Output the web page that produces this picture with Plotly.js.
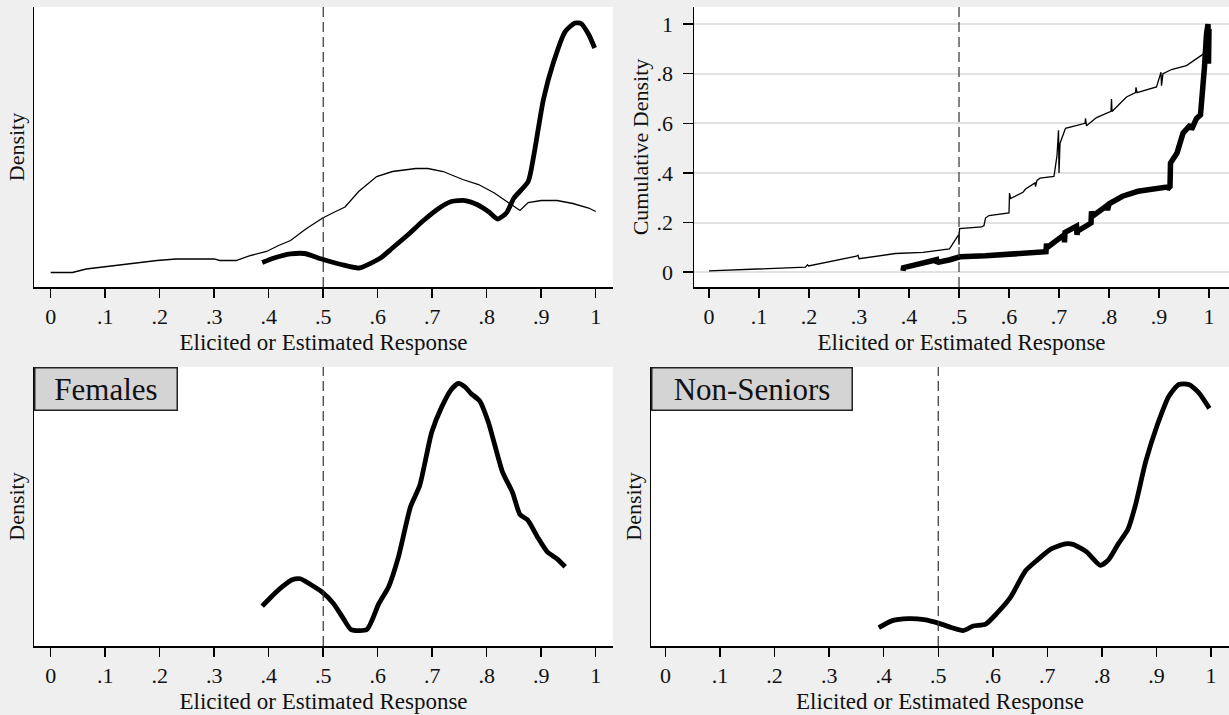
<!DOCTYPE html>
<html>
<head>
<meta charset="utf-8">
<script src="https://cdn.plot.ly/plotly-3.0.1.min.js"></script>
<style>html,body{margin:0;padding:0;background:#efefef;}#chart{width:1229px;height:715px;}</style>
</head>
<body>
<div id="chart"></div>
<script>
// ---- Tick labels ----
const xTickVals = [0, 0.1, 0.2, 0.3, 0.4, 0.5, 0.6, 0.7, 0.8, 0.9, 1];
const xTickText = ['0', '.1', '.2', '.3', '.4', '.5', '.6', '.7', '.8', '.9', '1'];
const yCdfTickVals = [0, 0.2, 0.4, 0.6, 0.8, 1];
const yCdfTickText = ['0', '.2', '.4', '.6', '.8', '1'];
const cutoff = 0.5;

// ---- Panel 1: densities (thin = estimated, thick = elicited) ----
const densThinX = [0, 0.04, 0.065, 0.094, 0.144, 0.195, 0.23, 0.30, 0.31, 0.34, 0.367, 0.396, 0.418, 0.44, 0.468, 0.499, 0.519, 0.54, 0.565, 0.598, 0.627, 0.67, 0.692, 0.72, 0.756, 0.785, 0.814, 0.836, 0.861, 0.876, 0.90, 0.929, 0.958, 0.987, 1.0];
const densThinY = [0.29, 0.29, 0.36, 0.40, 0.46, 0.53, 0.56, 0.56, 0.53, 0.53, 0.63, 0.71, 0.83, 0.93, 1.16, 1.38, 1.49, 1.60, 1.91, 2.21, 2.31, 2.37, 2.37, 2.31, 2.15, 2.05, 1.88, 1.71, 1.53, 1.69, 1.73, 1.73, 1.67, 1.58, 1.51];
const densThickX = [0.388, 0.41, 0.44, 0.465, 0.497, 0.533, 0.566, 0.605, 0.627, 0.656, 0.684, 0.713, 0.735, 0.76, 0.782, 0.803, 0.82, 0.836, 0.85, 0.876, 0.886, 0.904, 0.922, 0.944, 0.962, 0.973, 0.987, 0.998];
const densThickY = [0.49, 0.58, 0.66, 0.67, 0.56, 0.45, 0.38, 0.58, 0.78, 1.05, 1.33, 1.58, 1.71, 1.73, 1.65, 1.51, 1.36, 1.48, 1.78, 2.11, 2.61, 3.75, 4.48, 5.11, 5.28, 5.27, 5.05, 4.78];

// ---- Panel 2: cumulative densities ----
const cdfThinX = [0, 0.193, 0.197, 0.199, 0.295, 0.298, 0.300, 0.373, 0.428, 0.481, 0.499, 0.500, 0.501, 0.545, 0.550, 0.553, 0.560, 0.600, 0.601, 0.603, 0.628, 0.633, 0.652, 0.653, 0.656, 0.662, 0.690, 0.696, 0.699, 0.700, 0.702, 0.713, 0.752, 0.753, 0.755, 0.775, 0.804, 0.805, 0.806, 0.835, 0.853, 0.854, 0.856, 0.895, 0.904, 0.905, 0.908, 0.925, 0.955, 0.992];
const cdfThinY = [0.005, 0.020, 0.030, 0.025, 0.064, 0.068, 0.054, 0.075, 0.080, 0.094, 0.150, 0.110, 0.175, 0.182, 0.188, 0.218, 0.228, 0.239, 0.319, 0.297, 0.322, 0.335, 0.360, 0.345, 0.370, 0.379, 0.386, 0.470, 0.572, 0.400, 0.520, 0.580, 0.600, 0.620, 0.590, 0.623, 0.648, 0.698, 0.648, 0.706, 0.724, 0.745, 0.724, 0.747, 0.806, 0.752, 0.800, 0.817, 0.833, 0.884];
const cdfThickX = [0.388, 0.389, 0.455, 0.456, 0.458, 0.482, 0.502, 0.553, 0.640, 0.674, 0.675, 0.677, 0.710, 0.711, 0.712, 0.735, 0.736, 0.737, 0.764, 0.765, 0.767, 0.796, 0.797, 0.800, 0.827, 0.858, 0.916, 0.917, 0.922, 0.923, 0.936, 0.948, 0.963, 0.965, 0.975, 0.983, 0.987, 0.991, 0.995, 0.998, 0.999, 1.0];
const cdfThickY = [0.005, 0.018, 0.050, 0.035, 0.040, 0.050, 0.062, 0.066, 0.074, 0.082, 0.115, 0.100, 0.150, 0.120, 0.160, 0.185, 0.150, 0.165, 0.198, 0.245, 0.225, 0.268, 0.250, 0.275, 0.306, 0.326, 0.343, 0.335, 0.345, 0.440, 0.480, 0.560, 0.594, 0.575, 0.620, 0.634, 0.721, 0.828, 0.960, 1.000, 0.840, 0.980];

// ---- Panel 3: Females ----
const femX = [0.388, 0.403, 0.425, 0.443, 0.458, 0.476, 0.497, 0.519, 0.537, 0.551, 0.58, 0.602, 0.62, 0.638, 0.66, 0.677, 0.699, 0.717, 0.735, 0.748, 0.76, 0.771, 0.787, 0.803, 0.829, 0.847, 0.861, 0.875, 0.893, 0.911, 0.929, 0.944];
const femY = [0.80, 0.97, 1.19, 1.33, 1.35, 1.24, 1.09, 0.85, 0.55, 0.33, 0.33, 0.85, 1.19, 1.79, 2.79, 3.22, 4.29, 4.79, 5.15, 5.27, 5.20, 5.07, 4.92, 4.49, 3.49, 3.09, 2.64, 2.53, 2.19, 1.89, 1.75, 1.59];

// ---- Panel 4: Non-Seniors ----
const nsX = [0.391, 0.416, 0.445, 0.474, 0.503, 0.524, 0.546, 0.564, 0.587, 0.607, 0.632, 0.66, 0.682, 0.707, 0.733, 0.747, 0.772, 0.797, 0.812, 0.83, 0.848, 0.862, 0.88, 0.902, 0.923, 0.941, 0.959, 0.977, 0.997];
const nsY = [0.37, 0.51, 0.55, 0.53, 0.45, 0.37, 0.31, 0.40, 0.44, 0.65, 0.97, 1.51, 1.73, 1.95, 2.05, 2.04, 1.89, 1.62, 1.73, 2.05, 2.35, 2.85, 3.69, 4.45, 5.02, 5.25, 5.25, 5.09, 4.77];

const FONT = 'Liberation Serif, Times New Roman, serif';
const thin = {color: '#000', width: 1.3};
const thick = {color: '#000', width: 4.8};

const traces = [
  {x: densThinX, y: densThinY, xaxis: 'x', yaxis: 'y', mode: 'lines', line: thin},
  {x: densThickX, y: densThickY, xaxis: 'x', yaxis: 'y', mode: 'lines', line: Object.assign({shape: 'spline', smoothing: 0.6}, thick)},
  {x: cdfThinX, y: cdfThinY, xaxis: 'x2', yaxis: 'y2', mode: 'lines', line: thin},
  {x: cdfThickX, y: cdfThickY, xaxis: 'x2', yaxis: 'y2', mode: 'lines', line: {color: '#000', width: 5.5}},
  {x: femX, y: femY, xaxis: 'x3', yaxis: 'y3', mode: 'lines', line: Object.assign({shape: 'spline', smoothing: 0.6}, thick)},
  {x: nsX, y: nsY, xaxis: 'x4', yaxis: 'y4', mode: 'lines', line: Object.assign({shape: 'spline', smoothing: 0.6}, thick)}
];

function xAxis(domain, range) {
  return {
    domain: domain, range: range, tickvals: xTickVals, ticktext: xTickText,
    ticks: 'outside', ticklen: 9, tickwidth: 1.5, tickcolor: '#000',
    showline: true, linecolor: '#000', linewidth: 1.5, showgrid: false, zeroline: false,
    tickfont: {family: FONT, size: 22, color: '#111'},
    title: {text: 'Elicited or Estimated Response', font: {family: FONT, size: 23, color: '#111'}, standoff: 6},
    fixedrange: true
  };
}
function yDens(domain) {
  return {
    domain: domain, range: [0, 5.6], showticklabels: false, ticks: '',
    showline: true, linecolor: '#000', linewidth: 1.5, showgrid: false, zeroline: false,
    title: {text: 'Density', font: {family: FONT, size: 22, color: '#111'}, standoff: 2},
    fixedrange: true
  };
}

const topDom = [0.5986, 0.9902];
const botDom = [0.0965, 0.4867];

const layout = {
  width: 1229, height: 715,
  margin: {l: 0, r: 0, t: 0, b: 0},
  paper_bgcolor: '#efefef', plot_bgcolor: '#ffffff',
  showlegend: false,
  font: {family: FONT, color: '#111'},
  xaxis: Object.assign(xAxis([0.0277, 0.4988], [-0.0306, 1.0317]), {anchor: 'y'}),
  yaxis: Object.assign(yDens(topDom), {anchor: 'x'}),
  xaxis2: Object.assign(xAxis([0.5647, 1], [-0.03, 1.04]), {anchor: 'y2'}),
  yaxis2: {
    anchor: 'x2', domain: topDom, range: [-0.06, 1.069],
    tickvals: yCdfTickVals, ticktext: yCdfTickText,
    ticks: 'outside', ticklen: 10, tickwidth: 1.5, tickcolor: '#000',
    ticklabelstandoff: 5,
    showline: true, linecolor: '#000', linewidth: 1.5,
    showgrid: true, gridcolor: '#e2e2e2', gridwidth: 2, zeroline: false,
    tickfont: {family: FONT, size: 22, color: '#111'},
    title: {text: 'Cumulative Density', font: {family: FONT, size: 22, color: '#111'}, standoff: 2},
    fixedrange: true
  },
  xaxis3: Object.assign(xAxis([0.0277, 0.4988], [-0.0306, 1.0317]), {anchor: 'y3'}),
  yaxis3: Object.assign(yDens(botDom), {anchor: 'x3'}),
  xaxis4: Object.assign(xAxis([0.5297, 1], [-0.0266, 1.033]), {anchor: 'y4'}),
  yaxis4: Object.assign(yDens(botDom), {anchor: 'x4'}),
  shapes: ['', '2', '3', '4'].map(s => ({
    type: 'line', xref: 'x' + s, yref: 'y' + s + ' domain',
    x0: cutoff, x1: cutoff, y0: 0, y1: 1,
    line: {color: '#333', width: 1.2, dash: '10px,5px'}
  })),
  annotations: [
    {text: 'Females', xref: 'x3 domain', yref: 'y3 domain', x: 0, y: 1, xanchor: 'left', yanchor: 'top',
     showarrow: false, font: {family: FONT, size: 31, color: '#111'}, bgcolor: '#d4d4d4',
     bordercolor: '#222', borderwidth: 1.5, borderpad: 0, width: 141, height: 41, align: 'center'},
    {text: 'Non-Seniors', xref: 'x4 domain', yref: 'y4 domain', x: 0, y: 1, xanchor: 'left', yanchor: 'top',
     showarrow: false, font: {family: FONT, size: 31, color: '#111'}, bgcolor: '#d4d4d4',
     bordercolor: '#222', borderwidth: 1.5, borderpad: 0, width: 199, height: 41, align: 'center'}
  ]
};

Plotly.newPlot('chart', traces, layout, {staticPlot: true, displayModeBar: false});
</script>
</body>
</html>
